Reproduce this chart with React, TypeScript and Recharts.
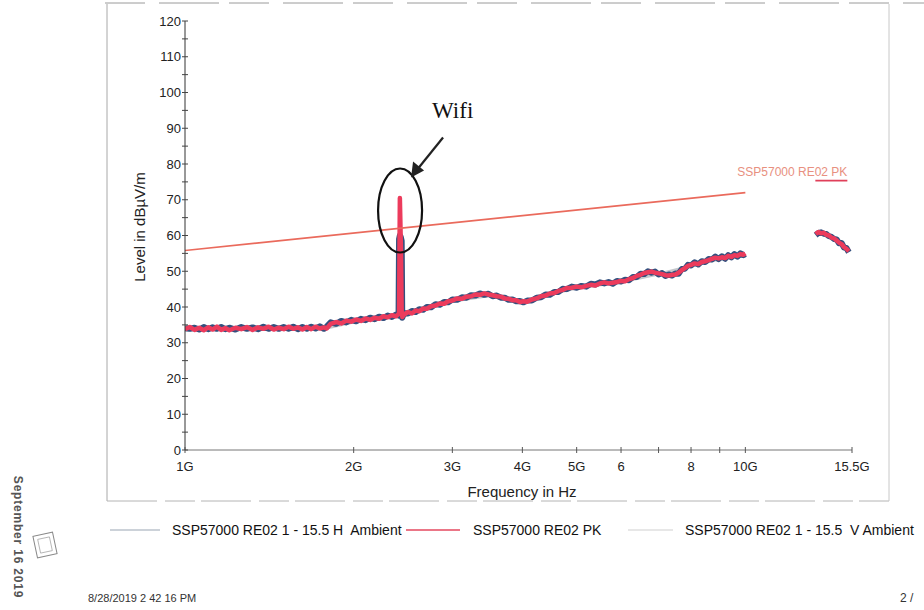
import React from "react";
import { LineChart, Line, XAxis, YAxis, ReferenceDot } from "recharts";

// ---- data (frequency in GHz, level in dBµV/m) ----
const FREQ = [
  1.0, 1.02, 1.04, 1.06, 1.08, 1.1, 1.12, 1.14, 1.16, 1.18,
  1.2, 1.23, 1.26, 1.29, 1.32, 1.35, 1.38, 1.41, 1.44, 1.47,
  1.5, 1.53, 1.56, 1.59, 1.62, 1.65, 1.68, 1.71, 1.74, 1.77,
  1.79, 1.82, 1.86, 1.9, 1.94, 1.98, 2.02, 2.06, 2.1, 2.14,
  2.18, 2.22, 2.26, 2.3, 2.34, 2.38, 2.405, 2.41, 2.418, 2.428,
  2.436, 2.442, 2.46, 2.5, 2.54, 2.58, 2.62, 2.66, 2.7, 2.75,
  2.8, 2.85, 2.9, 2.95, 3.0, 3.06, 3.12, 3.18, 3.24, 3.3,
  3.36, 3.42, 3.48, 3.54, 3.6, 3.66, 3.72, 3.78, 3.84, 3.9,
  3.96, 4.02, 4.08, 4.16, 4.24, 4.32, 4.4, 4.48, 4.56, 4.64,
  4.72, 4.8, 4.9, 5.0, 5.1, 5.2, 5.3, 5.4, 5.5, 5.6,
  5.7, 5.8, 5.9, 6.0, 6.1, 6.2, 6.3, 6.4, 6.5, 6.6,
  6.7, 6.8, 6.9, 7.0, 7.1, 7.2, 7.3, 7.4, 7.5, 7.6,
  7.7, 7.8, 7.9, 8.0, 8.12, 8.24, 8.36, 8.48, 8.6, 8.72,
  8.84, 8.96, 9.08, 9.2, 9.32, 9.44, 9.56, 9.68, 9.8, 9.92,
  10.0, 11.5, 13.35, 13.5, 13.65, 13.8, 13.95, 14.1, 14.25, 14.4,
  14.55, 14.7, 14.85, 15.0, 15.15, 15.3,
];

const PK = [
  33.8, 34.4, 33.6, 34.2, 33.5, 34.3, 33.7, 34.5, 33.6, 34.1,
  33.5, 34.2, 33.8, 34.4, 33.6, 34.3, 33.9, 34.5, 33.7, 34.2,
  33.8, 34.5, 33.9, 34.3, 33.7, 34.4, 33.8, 34.5, 34.0, 34.3,
  34.0, 35.3, 35.8, 35.4, 36.2, 35.9, 36.5, 36.1, 36.8, 36.4,
  37.0, 36.7, 37.4, 37.1, 37.7, 37.4, 38.0, 38.4, 70.5, 57.0,
  38.6, 37.2, 37.9, 38.6, 38.2, 39.0, 38.8, 39.6, 39.5, 40.2,
  40.4, 41.0, 40.9, 41.6, 41.8, 42.4, 42.3, 42.9, 43.0, 43.5,
  43.4, 43.8, 43.5, 43.3, 43.0, 42.9, 42.4, 42.3, 41.9, 41.9,
  41.4, 41.6, 41.5, 42.1, 42.4, 43.0, 43.2, 43.8, 43.9, 44.5,
  44.8, 45.3, 45.4, 45.7, 45.5, 45.9, 46.2, 46.0, 46.6, 46.9,
  46.6, 46.8, 47.0, 47.3, 47.2, 47.8, 48.1, 48.7, 49.0, 49.5,
  49.7, 49.9, 49.6, 49.4, 49.2, 48.9, 48.8, 49.0, 49.1, 49.6,
  50.3, 50.9, 51.5, 51.8, 52.2, 52.0, 52.6, 52.8, 53.1, 53.5,
  53.8, 53.6, 53.9, 53.7, 54.3, 54.0, 54.5, 54.3, 54.8, 54.6,
  55.0, null, 60.4, 61.0, 60.6, 60.8, 60.2, 60.0, 59.4, 59.2,
  58.6, 58.0, 57.6, 56.8, 56.3, 55.6,
];

const H_AMB = [
  34.1, 33.9, 34.2, 33.7, 34.4, 33.8, 34.3, 33.9, 34.4, 33.8,
  34.2, 33.7, 34.4, 33.9, 34.3, 33.8, 34.5, 33.9, 34.4, 33.9,
  34.4, 33.9, 34.5, 33.8, 34.4, 33.9, 34.5, 34.0, 34.6, 33.9,
  34.5, 35.7, 35.3, 36.1, 35.7, 36.4, 36.0, 36.7, 36.3, 37.0,
  36.6, 37.3, 36.9, 37.6, 37.2, 37.9, 37.6, 59.0, 60.0, 59.5,
  58.5, 37.0, 38.3, 38.2, 38.9, 38.6, 39.4, 39.2, 40.0, 39.9,
  40.8, 40.6, 41.4, 41.3, 42.1, 42.0, 42.7, 42.6, 43.3, 43.2,
  43.8, 43.4, 43.7, 43.0, 43.2, 42.6, 42.6, 42.0, 42.1, 41.6,
  41.7, 41.3, 41.8, 41.8, 42.6, 42.7, 43.5, 43.4, 44.2, 44.2,
  45.1, 45.0, 45.7, 45.4, 45.9, 45.7, 46.5, 46.3, 46.9, 46.6,
  47.0, 46.5, 47.3, 47.1, 47.6, 47.5, 48.4, 48.4, 49.3, 49.2,
  50.0, 49.6, 49.9, 49.1, 49.5, 48.7, 49.1, 48.8, 49.4, 49.3,
  50.6, 50.7, 51.8, 51.6, 52.5, 51.9, 52.8, 52.6, 53.4, 53.3,
  54.1, 53.4, 54.2, 53.5, 54.5, 53.9, 54.8, 54.1, 55.0, 54.5,
  54.8, null, 60.1, 60.7, 60.9, 60.5, 60.4, 59.8, 59.6, 59.0,
  58.9, 57.8, 57.9, 56.6, 56.5, 55.3,
];

const V_FREQ = [1.0, 1.3, 1.6, 1.8, 2.0, 2.2, 2.4, 2.44, 2.6, 3.0, 3.5, 4.0, 4.5, 5.0, 6.0, 7.0, 8.0, 9.0, 10.0];
const V_AMB = [33.6, 33.7, 33.8, 34.2, 35.8, 36.6, 37.5, 37.4, 38.7, 41.6, 43.2, 41.4, 43.6, 45.3, 47.0, 49.2, 51.5, 53.4, 54.4];

const LIMIT_FREQ = [1.0, 10.0];
const LIMIT = [55.8, 72.0];

const X_TICKS = [1, 2, 3, 4, 5, 6, 7, 8, 9, 10, 15.5];
const X_TICK_LABELS = ["1G", "2G", "3G", "4G", "5G", "6", "", "8", "", "10G", "15.5G"];
const Y_TICKS = [0, 5, 10, 15, 20, 25, 30, 35, 40, 45, 50, 55, 60, 65, 70, 75, 80, 85, 90, 95, 100, 105, 110, 115, 120];

const SERIES_NAMES = [
  "SSP57000 RE02 1 - 15.5 H  Ambient",
  "SSP57000 RE02 PK",
  "SSP57000 RE02 1 - 15.5  V Ambient",
];

const data = FREQ.map((f, i) => ({ f, pk: PK[i], h: H_AMB[i] }));
const vData = V_FREQ.map((f, i) => ({ f, v: V_AMB[i] }));
const limitData = LIMIT_FREQ.map((f, i) => ({ f, lim: LIMIT[i] }));

const FONT = "'Liberation Sans', Arial, Helvetica, sans-serif";
const PK_COLOR = "#ec3b5c";
const H_COLOR = "#33507e";
const V_COLOR = "#c4c8cc";
const LIMIT_COLOR = "#ea6a5c";

const XTick = (props: any) => {
  const { x, y, payload } = props;
  const idx = X_TICKS.indexOf(payload.value);
  const axisY = y - 11;
  return (
    <g>
      <line x1={x} x2={x} y1={axisY - 3} y2={axisY + 3} stroke="#555" strokeWidth={1} />
      <text x={x} y={y} dy="0.74em" textAnchor="middle" fontSize={13} fill="#222" fontFamily={FONT}>
        {idx >= 0 ? X_TICK_LABELS[idx] : ""}
      </text>
    </g>
  );
};

const YTick = (props: any) => {
  const { x, y, payload } = props;
  const axisX = x + 4;
  const major = payload.value % 10 === 0;
  return (
    <g>
      <line x1={axisX - 3} x2={axisX + 3} y1={y} y2={y} stroke="#444" strokeWidth={1} />
      {major && (
        <text x={x} y={y} dy="0.36em" textAnchor="end" fontSize={13} fill="#222" fontFamily={FONT}>
          {payload.value}
        </text>
      )}
    </g>
  );
};

const WifiMark = (props: any) => {
  const { cx, cy } = props;
  return (
    <g>
      <ellipse cx={cx} cy={cy} rx={22} ry={42} fill="none" stroke="#111" strokeWidth={2.2} />
      <line x1={cx + 43} y1={cy - 73} x2={cx + 18} y2={cy - 42} stroke="#222" strokeWidth={2.2} />
      <polygon
        points={`${cx + 11},${cy - 33} ${cx + 13},${cy - 49} ${cx + 24},${cy - 40}`}
        fill="#222"
      />
      <text x={cx + 32} y={cy - 92} fontSize={23} fontFamily="'Liberation Serif', 'Times New Roman', serif" fill="#111">
        Wifi
      </text>
    </g>
  );
};

const LimitLabel = (props: any) => {
  const { cx, cy } = props;
  return (
    <g>
      <text x={cx + 102} y={cy - 17} textAnchor="end" fontSize={12} fill="#e89080" fontFamily={FONT}>
        {SERIES_NAMES[1]}
      </text>
      <line x1={cx + 70} x2={cx + 102} y1={cy - 12} y2={cy - 12} stroke="#e0405a" strokeWidth={1.6} />
    </g>
  );
};

export default function App() {
  return (
    <div style={{ position: "absolute", left: 0, top: 0, width: 924, height: 610, background: "#fff", fontFamily: FONT }}>
      <svg width={924} height={610} style={{ position: "absolute", left: 0, top: 0 }}>
        {/* page frame */}
        <line x1={105} x2={924} y1={3} y2={3} stroke="#9a9a9a" strokeWidth={1} strokeDasharray="40 14 60 10" />
        <line x1={107} x2={107} y1={4} y2={501} stroke="#a8a8a8" strokeWidth={1} />
        <line x1={107} x2={889} y1={501} y2={501} stroke="#b4b4b4" strokeWidth={1} strokeDasharray="50 8 30 6" />
        <line x1={889} x2={889} y1={4} y2={501} stroke="#c8c8c8" strokeWidth={1} />
      </svg>
      <div style={{ position: "absolute", left: 0, top: 0 }}>
        <LineChart width={924} height={610} data={data} margin={{ top: 21, right: 72, bottom: 130, left: 125 }}>
          <XAxis
            dataKey="f"
            type="number"
            scale="log"
            domain={[1, 15.5]}
            ticks={X_TICKS}
            allowDataOverflow
            interval={0}
            tickSize={0}
            tickMargin={11}
            tick={<XTick />}
            tickLine={false}
            axisLine={{ stroke: "#777", strokeWidth: 1 }}
            height={30}
          />
          <YAxis
            type="number"
            domain={[0, 120]}
            ticks={Y_TICKS}
            interval={0}
            tickSize={0}
            tickMargin={4}
            tick={<YTick />}
            tickLine={false}
            axisLine={{ stroke: "#333", strokeWidth: 1 }}
            width={60}
          />
          <Line
            data={vData}
            dataKey="v"
            stroke={V_COLOR}
            strokeWidth={3}
            dot={false}
            isAnimationActive={false}
            name={SERIES_NAMES[2]}
          />
          <Line
            dataKey="h"
            stroke={H_COLOR}
            strokeWidth={6}
            dot={false}
            strokeLinejoin="round"
            isAnimationActive={false}
            name={SERIES_NAMES[0]}
          />
          <Line
            dataKey="pk"
            stroke={PK_COLOR}
            strokeWidth={4.5}
            dot={false}
            strokeLinejoin="round"
            isAnimationActive={false}
            name={SERIES_NAMES[1]}
          />
          <Line
            data={limitData}
            dataKey="lim"
            stroke={LIMIT_COLOR}
            strokeWidth={1.6}
            dot={false}
            isAnimationActive={false}
            name="Limit"
          />
          <ReferenceDot x={2.42} y={67} r={0} shape={<WifiMark />} ifOverflow="visible" />
          <ReferenceDot x={10} y={72} r={0} shape={<LimitLabel />} ifOverflow="visible" />
        </LineChart>
      </div>
      <svg width={924} height={610} style={{ position: "absolute", left: 0, top: 0, pointerEvents: "none" }}>
        {/* axis titles */}
        <text x={522} y={497} textAnchor="middle" fontSize={15} fill="#222" fontFamily={FONT}>
          Frequency in Hz
        </text>
        <text
          transform="translate(145,227) rotate(-90)"
          textAnchor="middle"
          fontSize={15}
          fill="#222"
          fontFamily={FONT}
        >
          Level in dBµV/m
        </text>
        {/* legend */}
        <line x1={110} x2={160} y1={530} y2={530} stroke="#9aa6b4" strokeWidth={1.2} />
        <text x={172} y={535} fontSize={14} fill="#111" fontFamily={FONT} style={{ whiteSpace: "pre" }}>{SERIES_NAMES[0]}</text>
        <line x1={406} x2={460} y1={530} y2={530} stroke="#e5485f" strokeWidth={1.6} />
        <text x={473} y={535} fontSize={14} fill="#111" fontFamily={FONT} style={{ whiteSpace: "pre" }}>{SERIES_NAMES[1]}</text>
        <line x1={628} x2={673} y1={530} y2={530} stroke="#cfcfcf" strokeWidth={1.2} />
        <text x={685} y={535} fontSize={14} fill="#111" fontFamily={FONT} style={{ whiteSpace: "pre" }}>{SERIES_NAMES[2]}</text>
        {/* footer */}
        <text transform="translate(14,537) rotate(90)" textAnchor="middle" fontSize={12} fontWeight="bold" fill="#555" fontFamily={FONT} letterSpacing={0.8}>
          September 16 2019
        </text>
        <g transform="translate(45,545) rotate(-12)">
          <rect x={-10} y={-11} width={20} height={22} fill="none" stroke="#888" strokeWidth={1} />
          <rect x={-6} y={-7} width={12} height={14} fill="none" stroke="#aaa" strokeWidth={0.8} />
        </g>
        <text x={88} y={602} fontSize={11} fill="#333" fontFamily={FONT}>8/28/2019 2 42 16 PM</text>
        <text x={900} y={602} fontSize={12} fill="#333" fontFamily={FONT}>2 /</text>
      </svg>
    </div>
  );
}
